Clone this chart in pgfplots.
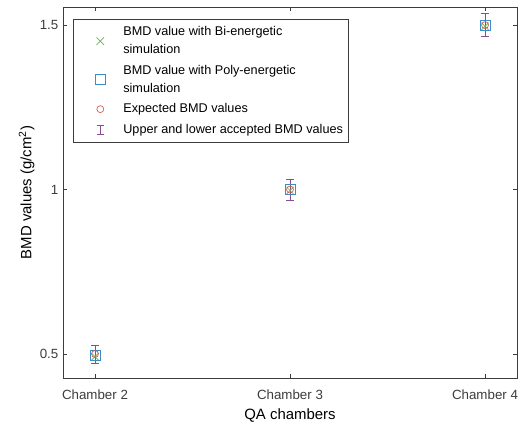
\documentclass[border=0pt]{standalone}
\usepackage{fontspec}
\setmainfont{Liberation Sans}
\usepackage{pgfplots}
\pgfplotsset{compat=1.18}
\usetikzlibrary{calc}
\definecolor{mgreen}{RGB}{110,178,90}
\definecolor{mblue}{RGB}{60,140,200}
\definecolor{mred}{RGB}{215,85,75}
\definecolor{mpurple}{RGB}{140,75,150}
\definecolor{axgray}{RGB}{60,60,60}
\begin{document}
\begin{tikzpicture}
\begin{axis}[
  name=ax,
  scale only axis,
  width=340.5pt, height=278.25pt,
  xmin=1.836, xmax=4.164,
  ymin=0.427, ymax=1.555,
  xtick={2,3,4},
  xticklabels={Chamber 2, Chamber 3, Chamber 4},
  ytick={0.5,1,1.5},
  yticklabels={0.5,1,1.5},
  tick align=inside,
  major tick length=3pt,
  axis line style={axgray, line width=0.5pt},
  tick style={axgray, line width=0.5pt},
  tick label style={font=\fontsize{10}{12}\selectfont, text=axgray},
  xticklabel style={yshift=-5pt},
  label style={font=\fontsize{11.2}{13}\selectfont},
  xlabel={QA chambers},
  ylabel={BMD values (g/cm\textsuperscript{2})},
  xlabel style={yshift=0pt},
  ylabel style={yshift=-3pt},
  /pgf/number format/assume math mode=true,
  legend cell align=left,
  legend style={at={(0.022,0.968)}, anchor=north west,
    font=\fontsize{9.5}{13.5}\selectfont,
    draw=axgray, line width=0.5pt,
    cells={anchor=west, align=left},
    nodes={inner xsep=2pt, inner ysep=1.5pt},
    row sep=4pt, column sep=0pt,
    inner xsep=2pt, inner ysep=4pt},
]
\addplot[only marks, mark=x, mark size=4pt, mgreen, line width=0.5pt,
  mark options={draw=mgreen},
  legend image code/.code={
    \path[draw=none] (0pt,0pt) -- (33.5pt,0pt);
    \draw[mgreen, line width=0.5pt, only marks, mark=x, mark size=4pt, mark options={draw=mgreen}] plot coordinates {(18.25pt,0pt)};
  }]
  coordinates {(2,0.492) (3,0.997) (4,1.496)};
\addlegendentry{BMD value with Bi-energetic\\simulation}
\addplot[only marks, mark=square, mark size=3.7pt, mblue, line width=0.5pt,
  mark options={draw=mblue, fill=none},
  legend image code/.code={
    \path[draw=none] (0pt,0pt) -- (33.5pt,0pt);
    \draw[mblue, line width=0.5pt, only marks, mark=square, mark size=3.7pt, mark options={draw=mblue, fill=none}] plot coordinates {(18.25pt,0pt)};
  }]
  coordinates {(2,0.495) (3,1.0) (4,1.498)};
\addlegendentry{BMD value with Poly-energetic\\simulation}
\addplot[only marks, mark=o, mark size=2.6pt, mred, line width=0.5pt,
  mark options={draw=mred, fill=none},
  legend image code/.code={
    \path[draw=none] (0pt,0pt) -- (33.5pt,0pt);
    \draw[mred, line width=0.5pt, only marks, mark=o, mark size=2.6pt, mark options={draw=mred, fill=none}] plot coordinates {(18.25pt,0pt)};
  }]
  coordinates {(2,0.5) (3,1.0) (4,1.5)};
\addlegendentry{Expected BMD values}
\addplot[draw=none, mark=none,
  legend image code/.code={
    \path[draw=none] (0pt,0pt) -- (33.5pt,0pt);
    \draw[mpurple, line width=0.5pt] (18.25pt,-3.5pt) -- (18.25pt,3.5pt);
    \draw[mpurple, line width=0.5pt] (15.75pt,-3.5pt) -- (20.75pt,-3.5pt);
    \draw[mpurple, line width=0.5pt] (15.75pt,3.5pt) -- (20.75pt,3.5pt);
  },
  error bars/.cd, y dir=both, y explicit,
  error bar style={draw=mpurple, line width=0.5pt},
  error mark options={rotate=90, draw=mpurple, mark size=3pt, line width=0.5pt}]
  coordinates {(2,0.5) +- (0,0.027) (3,1.0) +- (0,0.032) (4,1.5) +- (0,0.035)};
\addlegendentry{Upper and lower accepted BMD values}
\end{axis}
\pgfresetboundingbox
\path ($(ax.south west)+(-47.25pt,-36pt)$) rectangle ($(ax.north east)+(6pt,5.25pt)$);
\end{tikzpicture}
\end{document}
